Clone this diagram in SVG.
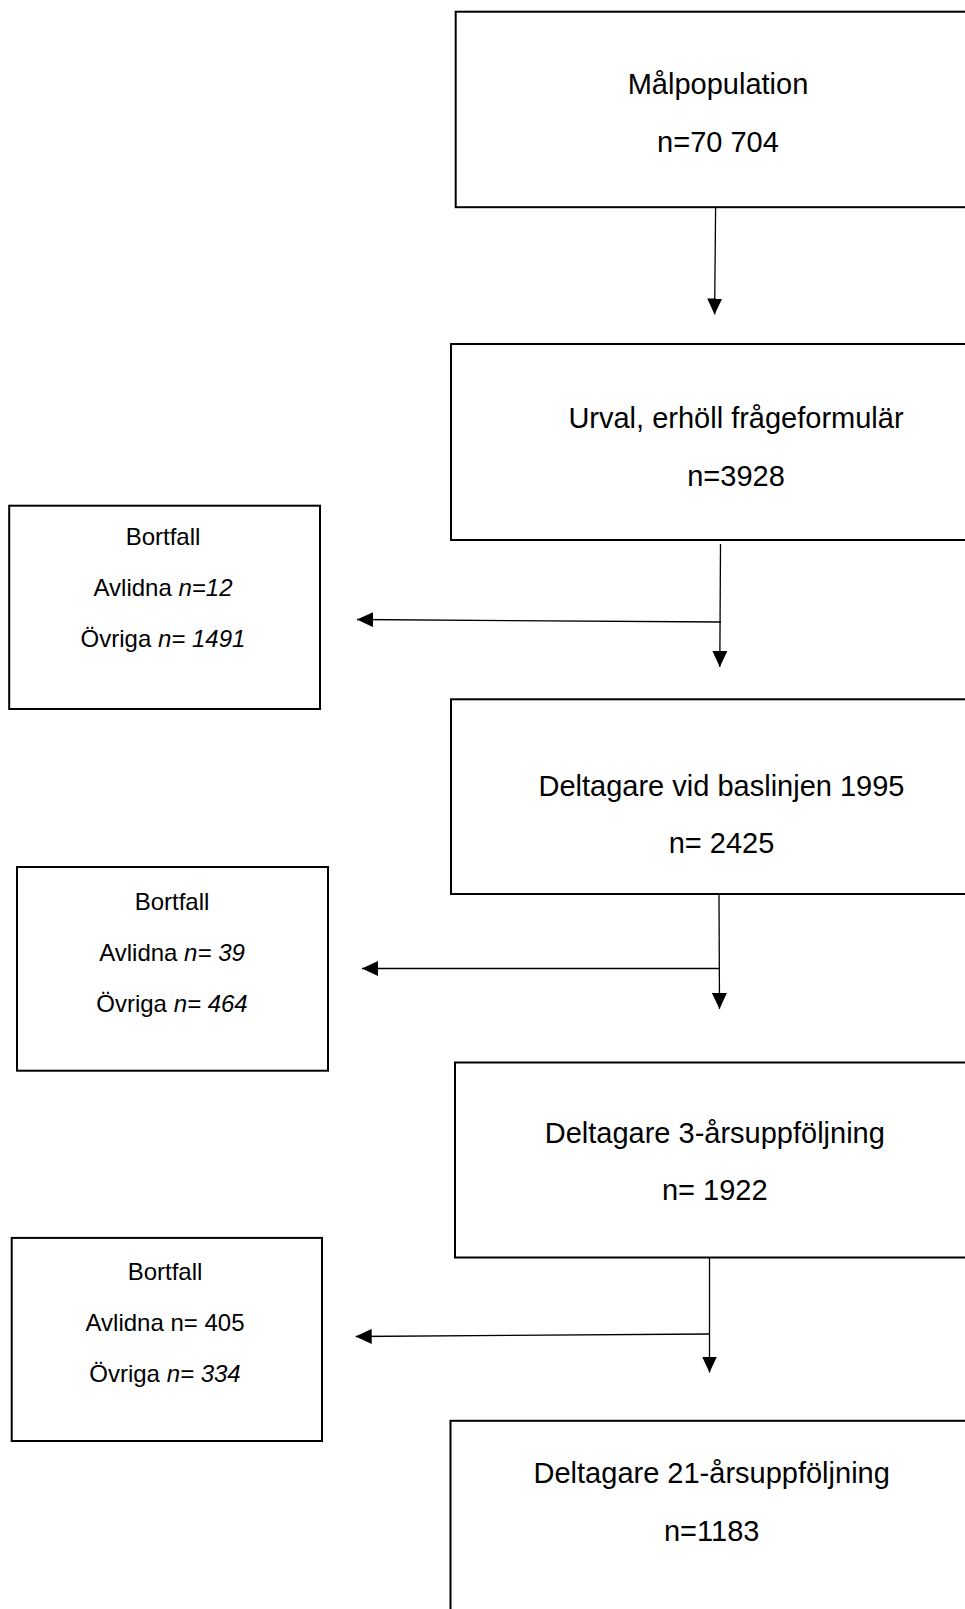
<svg xmlns="http://www.w3.org/2000/svg" width="965" height="1609" viewBox="0 0 965 1609">
<style>
.box{fill:#fff;stroke:#000;stroke-width:2}
.big{font-family:"Liberation Sans",Arial,sans-serif;font-size:29px;fill:#000;text-anchor:middle}
.small{font-family:"Liberation Sans",Arial,sans-serif;font-size:24px;fill:#000;text-anchor:middle}
.conn{stroke:#000;stroke-width:1.3;fill:none}
</style>
<defs>
<marker id="ah" markerUnits="userSpaceOnUse" viewBox="0 0 16 15" refX="16" refY="7.5" markerWidth="16" markerHeight="15" orient="auto">
<path d="M0,0 L16,7.5 L0,15 z" fill="#000"/>
</marker>
</defs>
<rect width="965" height="1609" fill="#fff"/>
<g id="connectors">
<line class="conn" x1="715.6" y1="208" x2="714.6" y2="314.5" marker-end="url(#ah)"/>
<line class="conn" x1="720.5" y1="544" x2="719.8" y2="667" marker-end="url(#ah)"/>
<line class="conn" x1="721" y1="622" x2="357" y2="619.5" marker-end="url(#ah)"/>
<line class="conn" x1="719" y1="895" x2="719.5" y2="1009" marker-end="url(#ah)"/>
<line class="conn" x1="719" y1="968.5" x2="362" y2="968.5" marker-end="url(#ah)"/>
<line class="conn" x1="709.5" y1="1258" x2="709.5" y2="1372.5" marker-end="url(#ah)"/>
<line class="conn" x1="709.5" y1="1334" x2="355.7" y2="1336.5" marker-end="url(#ah)"/>
</g>
<g id="node-malpopulation">
<rect class="box" x="455.7" y="11.7" width="520" height="195.5"/>
<text class="big" x="718" y="94.3">Målpopulation</text>
<text class="big" x="718" y="151.7">n=70 704</text>
</g>
<g id="node-urval">
<rect class="box" x="451" y="344" width="525" height="196"/>
<text class="big" x="736" y="427.7">Urval, erhöll frågeformulär</text>
<text class="big" x="736" y="485.5">n=3928</text>
</g>
<g id="node-bortfall1">
<rect class="box" x="9.2" y="505.7" width="310.8" height="203.3"/>
<text class="small" x="163" y="545">Bortfall</text>
<text class="small" x="163" y="595.7">Avlidna <tspan font-style="italic">n=12</tspan></text>
<text class="small" x="163" y="646.5">Övriga <tspan font-style="italic">n= 1491</tspan></text>
</g>
<g id="node-baslinjen">
<rect class="box" x="451" y="699.3" width="525" height="194.7"/>
<text class="big" x="721.5" y="796">Deltagare vid baslinjen 1995</text>
<text class="big" x="721.5" y="853">n= 2425</text>
</g>
<g id="node-bortfall2">
<rect class="box" x="17" y="867" width="311" height="203.7"/>
<text class="small" x="172" y="910">Bortfall</text>
<text class="small" x="172" y="961">Avlidna <tspan font-style="italic">n= 39</tspan></text>
<text class="small" x="172" y="1011.7">Övriga <tspan font-style="italic">n= 464</tspan></text>
</g>
<g id="node-3ar">
<rect class="box" x="455" y="1062.5" width="520" height="195"/>
<text class="big" x="714.8" y="1143.4">Deltagare 3-årsuppföljning</text>
<text class="big" x="714.8" y="1200.4">n= 1922</text>
</g>
<g id="node-bortfall3">
<rect class="box" x="11.7" y="1237.9" width="310.3" height="203.1"/>
<text class="small" x="165" y="1280">Bortfall</text>
<text class="small" x="165" y="1331">Avlidna n= 405</text>
<text class="small" x="165" y="1381.5">Övriga <tspan font-style="italic">n= 334</tspan></text>
</g>
<g id="node-21ar">
<rect class="box" x="450.5" y="1420.8" width="525" height="220"/>
<text class="big" x="711.7" y="1483">Deltagare 21-årsuppföljning</text>
<text class="big" x="711.7" y="1541">n=1183</text>
</g>
</svg>
